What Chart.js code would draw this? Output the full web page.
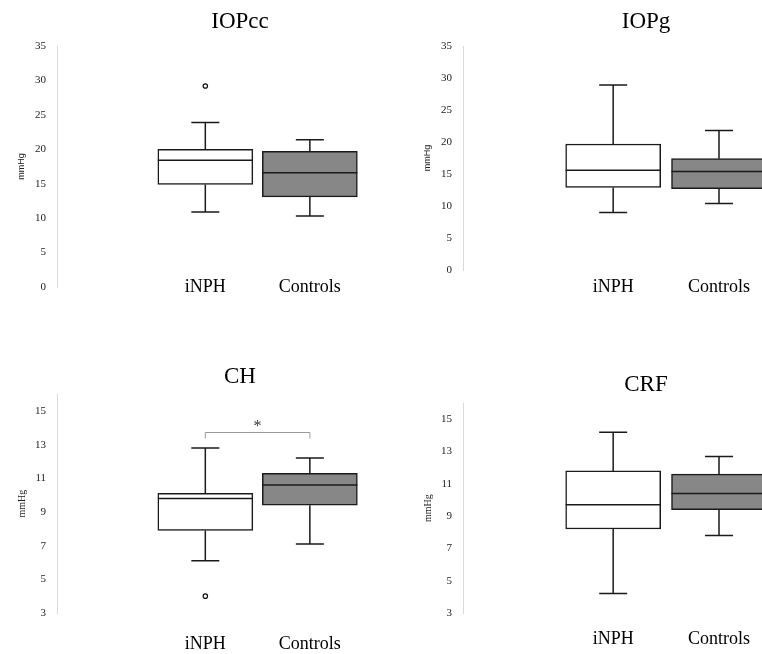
<!DOCTYPE html>
<html>
<head>
<meta charset="utf-8">
<title>IOP and corneal biomechanics: iNPH vs Controls</title>
<script src="https://cdn.jsdelivr.net/npm/chart.js@4.4.1/dist/chart.umd.min.js"></script>
<style>
  html, body { margin: 0; padding: 0; background: #fff; overflow: hidden; }
  #figure { position: relative; width: 762px; height: 654px; overflow: hidden; }
  #figure canvas { position: absolute; }
</style>
</head>
<body>
<div id="figure">
  <canvas id="iopccChart" width="480" height="327" style="left:0;top:0"></canvas>
  <canvas id="iopgChart" width="480" height="310" style="left:406px;top:0"></canvas>
  <canvas id="chChart" width="480" height="313" style="left:0;top:340px"></canvas>
  <canvas id="crfChart" width="480" height="313" style="left:406px;top:340px"></canvas>
</div>
<script>
const groups = ["iNPH", "Controls"];

// [lower whisker, Q1, median, Q3, upper whisker] for iNPH, Controls
const iopccStats = [[10.9, 14.9, 18.4, 20.0, 23.9], [10.3, 13.1, 16.6, 19.7, 21.4]];
const iopgStats = [[9.0, 12.9, 15.6, 19.7, 28.9], [10.4, 12.7, 15.4, 17.4, 21.8]];
const chStats = [[6.1, 7.9, 9.8, 10.1, 12.8], [7.1, 9.4, 10.6, 11.3, 12.2]];
const crfStats = [[4.2, 8.2, 9.7, 11.8, 14.2], [7.8, 9.4, 10.4, 11.6, 12.7]];

// outliers per group
const iopccOutliers = [[29.2], []];
const chOutliers = [[4.0], []];
const noOutliers = [[], []];

const iopTicks = [0, 5, 10, 15, 20, 25, 30, 35];
const biomechTicks = [3, 5, 7, 9, 11, 13, 15];

const boxFills = ["#ffffff", "#878787"];
const lineColor = "#1a1a1a";

// whiskers, caps, medians and the significance bracket
function boxPlotExtras(stats, bracket) {
  return {
    id: "boxPlotExtras",
    beforeDatasetsDraw(chart) {
      const { ctx, scales: { x, y } } = chart;
      ctx.save();
      ctx.strokeStyle = lineColor;
      ctx.lineWidth = 1.5;
      stats.forEach((s, i) => {
        const cx = x.getPixelForValue(i + 1);
        const lo = y.getPixelForValue(s[0]);
        const hi = y.getPixelForValue(s[4]);
        ctx.beginPath();
        ctx.moveTo(cx, y.getPixelForValue(s[1]));
        ctx.lineTo(cx, lo);
        ctx.moveTo(cx, y.getPixelForValue(s[3]));
        ctx.lineTo(cx, hi);
        ctx.moveTo(cx - 14, lo);
        ctx.lineTo(cx + 14, lo);
        ctx.moveTo(cx - 14, hi);
        ctx.lineTo(cx + 14, hi);
        ctx.stroke();
      });
      ctx.restore();
    },
    afterDatasetsDraw(chart) {
      const { ctx, scales: { x, y } } = chart;
      const bars = chart.getDatasetMeta(0).data;
      ctx.save();
      ctx.strokeStyle = lineColor;
      ctx.lineWidth = 1.5;
      stats.forEach((s, i) => {
        const ym = y.getPixelForValue(s[2]);
        ctx.beginPath();
        ctx.moveTo(bars[i].x - bars[i].width / 2, ym);
        ctx.lineTo(bars[i].x + bars[i].width / 2, ym);
        ctx.stroke();
      });
      if (bracket) {
        const x1 = x.getPixelForValue(bracket.from);
        const x2 = x.getPixelForValue(bracket.to);
        const yTop = y.getPixelForValue(bracket.y);
        const yEnd = y.getPixelForValue(bracket.y - bracket.drop);
        ctx.strokeStyle = "#9a9a9a";
        ctx.lineWidth = 1;
        ctx.beginPath();
        ctx.moveTo(x1, yEnd);
        ctx.lineTo(x1, yTop);
        ctx.lineTo(x2, yTop);
        ctx.lineTo(x2, yEnd);
        ctx.stroke();
        ctx.fillStyle = "#333";
        ctx.font = "16px 'Liberation Serif'";
        ctx.textAlign = "center";
        ctx.textBaseline = "alphabetic";
        ctx.fillText(bracket.label, (x1 + x2) / 2, yTop - 1);
      }
      ctx.restore();
    },
  };
}

function makePanel(canvasId, cfg) {
  const ctx = document.getElementById(canvasId).getContext("2d");
  return new Chart(ctx, {
    type: "bar",
    data: {
      datasets: [
        {
          type: "bar",
          data: cfg.stats.map((s, i) => ({ x: i + 1, y: [s[1], s[3]] })),
          backgroundColor: boxFills,
          borderColor: lineColor,
          borderWidth: 1.5,
          borderSkipped: false,
          barThickness: 95,
          order: 1,
        },
        {
          type: "scatter",
          data: cfg.outliers.flatMap((vals, i) => vals.map((v) => ({ x: i + 1, y: v }))),
          pointRadius: 2.2,
          pointBorderWidth: 1.2,
          pointBackgroundColor: "#fff",
          pointBorderColor: "#111",
          order: 0,
        },
      ],
    },
    options: {
      responsive: false,
      animation: false,
      layout: { padding: 0 },
      plugins: {
        legend: { display: false },
        tooltip: { enabled: false },
        title: {
          display: true,
          text: cfg.title,
          color: "#000",
          font: { family: "Liberation Serif", size: 23, weight: "normal" },
          padding: cfg.titlePad,
        },
      },
      scales: {
        x: {
          type: "linear",
          min: -0.419,
          max: 3.578,
          offset: false,
          grid: { display: false, drawTicks: false },
          border: { display: false },
          afterBuildTicks: (s) => {
            s.ticks = groups.map((g, i) => ({ value: i + 1 }));
          },
          afterFit: (s) => {
            s.height = 40;
          },
          ticks: {
            mirror: cfg.labelMirror || false,
            padding: cfg.labelPad,
            maxRotation: 0,
            autoSkip: false,
            color: "#000",
            font: { family: "Liberation Serif", size: 18 },
            callback: (v) => groups[v - 1],
          },
        },
        y: {
          min: cfg.ticks[0],
          max: cfg.yMax,
          afterBuildTicks: (s) => {
            s.ticks = cfg.ticks.map((v) => ({ value: v }));
          },
          afterFit: (s) => {
            s.width = 57;
          },
          grid: { display: false, drawTicks: false },
          border: { display: true, color: "#d9d9d9", width: 1 },
          ticks: {
            padding: 11,
            color: "#222",
            font: { family: "Liberation Serif", size: 11 },
          },
          title: {
            display: true,
            text: "mmHg",
            color: "#222",
            font: cfg.unitFont,
            padding: { top: 16, bottom: 0 },
          },
        },
      },
    },
    plugins: [boxPlotExtras(cfg.stats, cfg.bracket)],
  });
}

const sansUnit = { family: "Liberation Sans", size: 9 };
const serifUnit = { family: "Liberation Serif", size: 10 };

// IOPcc labels sit level with the 0 tick, so they are mirrored to avoid clipping
makePanel("iopccChart", {
  title: "IOPcc", stats: iopccStats, outliers: iopccOutliers,
  ticks: iopTicks, yMax: 35, titlePad: { top: 8, bottom: 10.5 },
  labelMirror: true, labelPad: -11, unitFont: sansUnit,
});
makePanel("iopgChart", {
  title: "IOPg", stats: iopgStats, outliers: noOutliers,
  ticks: iopTicks, yMax: 35, titlePad: { top: 8, bottom: 10.5 },
  labelPad: 6, unitFont: sansUnit,
});
makePanel("chChart", {
  title: "CH", stats: chStats, outliers: chOutliers,
  ticks: biomechTicks, yMax: 16, titlePad: { top: 23, bottom: 3.5 },
  labelPad: 20, unitFont: serifUnit,
  bracket: { from: 1, to: 2, y: 13.72, drop: 0.36, label: "*" },
});
makePanel("crfChart", {
  title: "CRF", stats: crfStats, outliers: noOutliers,
  ticks: biomechTicks, yMax: 16, titlePad: { top: 31, bottom: 4.5 },
  labelPad: 15, unitFont: serifUnit,
});
</script>
</body>
</html>
